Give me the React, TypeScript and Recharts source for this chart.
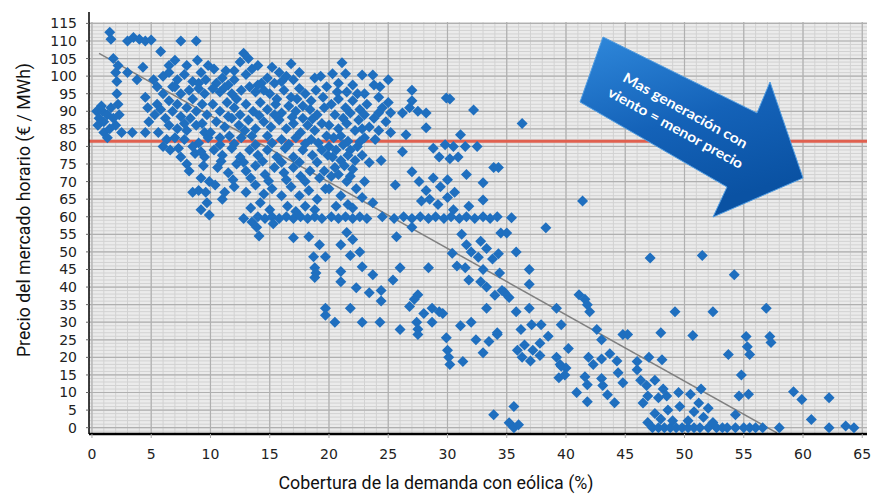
import {
  ScatterChart,
  Scatter,
  XAxis,
  YAxis,
  ZAxis,
  CartesianGrid,
  ReferenceLine,
} from 'recharts';

// axis ticks
const xTicks = [0, 5, 10, 15, 20, 25, 30, 35, 40, 45, 50, 55, 60, 65];
const yTicks = [0, 5, 10, 15, 20, 25, 30, 35, 40, 45, 50, 55, 60, 65, 70, 75, 80, 85, 90, 95, 100, 105, 110, 115];
const xMinor = Array.from({ length: 66 }, (_, i) => i);
const yMinor = Array.from({ length: 117 }, (_, i) => i - 1);
const xDomain: [number, number] = [-0.25, 65.4];
const yDomain: [number, number] = [-1.8, 115.4];

// reference price and trend line
const referencePrice = 81.5;
const trendStart = { x: 0.6, y: 106.5 };
const trendEnd = { x: 57.8, y: -1.5 };

// hourly points [wind coverage %, price €/MWh]
const band0to10: [number, number][] = [
  [0.4, 90], [0.6, 88], [0.9, 90], [0.5, 86], [1.0, 87], [1.3, 89], [1.6, 91], [1.0, 84], [1.5, 85], [2.0, 86],
  [1.8, 88], [2.3, 89], [1.3, 82.5], [2.5, 84], [0.8, 91.5], [2.2, 92],
  [1.5, 112.5], [1.6, 110.5], [3.0, 110], [3.5, 111], [4.0, 110.5], [4.5, 110], [5.0, 110.3], [7.5, 110], [8.8, 110],
  [5.8, 107], [1.8, 105], [2.2, 103], [2.0, 101], [4.3, 102.5], [2.1, 98.5], [2.1, 95], [7.0, 104.5], [8.0, 103],
  [6.0, 100], [6.5, 101], [5.2, 99], [7.2, 99], [7.8, 100.5], [8.5, 98.5], [9.2, 101], [9.6, 99], [5.5, 97], [7.0, 97],
  [8.2, 96], [9.0, 96.5],
  [4.5, 94], [4.7, 91], [5.3, 89], [4.8, 87], [3.4, 84], [4.5, 84], [5.6, 84], [6.5, 93], [7.2, 92], [6.8, 90],
  [7.5, 88.5], [8.0, 91], [8.5, 93.5], [9.3, 92], [9.7, 89], [6.5, 86], [7.2, 85], [8.0, 84.5], [8.8, 86], [9.5, 84],
  [6.3, 82], [7.8, 82], [9.0, 81], [9.8, 82.5],
  [6.6, 79], [7.3, 79.5], [8.0, 75], [8.7, 78], [9.5, 77], [8.2, 73], [9.2, 71], [8.5, 67], [9.0, 67.5], [9.6, 67],
  [9.2, 62], [9.9, 60.5], [9.7, 64], [9.9, 70], [9.4, 74.5], [7.5, 77], [6.0, 80],
  [5.5, 92], [6.0, 95], [6.2, 88], [6.8, 97], [7.5, 95], [7.8, 86.5], [8.3, 88], [8.8, 90], [9.0, 98], [9.5, 95],
  [8.5, 80], [9.2, 78.5], [7.0, 82.5], [5.8, 90.5], [3.0, 101], [3.8, 99], [6.5, 103], [9.8, 103], [8.9, 104.5],
  [9.3, 86.5],
];

const band10to20: [number, number][] = [
  [10.5, 98], [11.0, 99.5], [11.5, 97.5], [12.0, 99], [12.5, 104], [12.8, 106.5], [13.2, 105], [13.5, 102], [13.0, 100.5],
  [14.3, 98], [14.8, 99.5], [15.4, 98], [15.8, 101], [16.4, 100], [17.0, 99], [17.5, 96.5], [18.0, 95], [18.8, 99.5],
  [19.3, 100], [19.8, 97], [10.8, 95.5], [11.8, 95], [12.6, 96], [13.8, 95.5], [15.0, 95], [16.2, 96], [17.3, 93.5],
  [18.5, 93], [19.5, 94], [10.3, 102], [11.3, 101.5], [14.0, 103], [15.2, 102.5], [16.8, 103.5],
  [10.2, 92], [10.8, 90], [11.4, 92.5], [12.0, 91], [12.5, 89], [13.0, 92], [13.6, 90], [14.2, 92.5], [14.8, 90.5],
  [15.5, 92], [16.0, 89.5], [16.6, 91.5], [17.2, 90], [17.8, 88], [18.4, 90.5], [19.0, 89], [19.6, 91], [10.5, 87],
  [11.2, 85.5], [11.8, 88], [12.4, 86], [13.2, 87.5], [13.8, 85], [14.5, 87], [15.1, 85.5], [15.8, 87.5], [16.4, 85],
  [17.0, 86.5], [17.6, 84], [18.2, 86], [18.8, 84.5], [19.4, 86.5], [10.0, 84], [10.8, 82.5], [11.6, 83], [12.6, 82.5],
  [13.5, 83], [14.8, 83], [16.0, 82], [17.2, 82.5], [18.5, 82], [19.8, 83],
  [10.3, 79], [11.0, 77.5], [11.8, 79.5], [12.5, 77], [13.3, 79], [14.0, 77.5], [14.8, 79], [15.6, 77], [16.3, 79.5],
  [17.0, 77], [17.8, 79], [18.6, 77.5], [19.4, 79], [10.6, 74], [11.5, 72.5], [12.2, 75], [13.0, 73], [13.8, 74.5],
  [14.6, 72], [15.4, 74], [16.2, 72.5], [17.0, 74], [17.6, 71.5], [18.4, 73], [19.2, 71], [10.4, 69], [11.2, 67],
  [12.0, 68.5], [13.0, 67], [13.8, 69], [14.5, 66.5], [15.2, 68], [16.0, 66], [16.8, 68.5], [17.5, 66], [18.3, 67.5],
  [19.0, 65], [19.7, 68], [11.0, 65], [13.4, 62.5], [14.2, 64], [15.0, 62], [16.5, 63], [17.2, 61.5], [18.0, 63],
  [18.8, 62], [12.8, 59.5], [13.5, 58.5], [14.0, 60], [14.6, 59.5], [15.2, 60], [15.8, 59.5], [16.4, 60], [17.0, 59.5],
  [17.6, 60], [18.2, 59.5], [18.8, 60], [19.4, 59.5], [13.9, 57], [14.1, 54.5], [15.3, 58], [17.0, 54], [18.3, 54.3],
  [19.2, 52], [18.7, 48.6], [19.7, 48.6], [18.8, 45.5], [18.9, 44], [18.8, 42.7], [19.7, 34], [19.7, 32],
  [10.2, 96.5], [11.2, 96.8], [12.2, 93.5], [13.3, 97], [14.5, 96], [15.6, 93.5], [16.8, 94], [17.8, 91.5], [18.9, 96],
  [10.8, 80.5], [12.0, 80.8], [13.8, 80.5], [15.2, 81], [16.6, 80.6], [18.0, 80.8], [19.1, 81], [11.5, 88.5],
  [12.9, 84.5], [14.1, 88.8], [15.4, 89], [16.9, 88.3], [18.6, 87.8], [10.9, 75.8], [12.8, 75.5], [14.4, 75.8],
  [16.0, 75.5], [17.5, 75.5], [19.0, 75.5], [11.9, 70.5], [13.4, 71], [14.9, 70.2], [16.4, 70.5], [18.0, 70],
  [19.6, 73], [14.0, 97.5], [16.0, 98.5], [12.0, 101.5], [17.5, 101],
];

const band20to30: [number, number][] = [
  [20.3, 100.7], [20.8, 98], [21.1, 103.8], [21.4, 100.7], [22.0, 97.5], [22.8, 100.3], [23.7, 100.3], [24.3, 97],
  [25.0, 99], [21.5, 95.5], [23.0, 95], [24.2, 94], [25.0, 92.5], [27.0, 96], [27.0, 93], [29.9, 93.8], [30.2, 93.5],
  [20.2, 92], [20.8, 93.5], [21.4, 91], [22.0, 93], [22.6, 90.5], [23.2, 92], [20.5, 89], [21.2, 88], [21.8, 89.5],
  [22.5, 87.5], [23.0, 89], [20.0, 86], [20.8, 85], [21.5, 86.5], [22.2, 84.5], [22.8, 85], [23.4, 85.5], [24.2, 89.6],
  [25.2, 89.6], [24.2, 84.5], [25.2, 84], [26.2, 89.5], [26.8, 91], [27.5, 90], [28.2, 89.5], [28.2, 85.3], [26.5, 83.3],
  [23.9, 82], [20.4, 82.5], [21.0, 83], [21.6, 81.5],
  [20.0, 80], [20.6, 79], [21.2, 80.5], [21.8, 79], [22.4, 80], [20.3, 77], [21.0, 76], [21.6, 77.5], [22.2, 76],
  [22.8, 77.5], [20.5, 74], [21.3, 74.5], [22.0, 73.5], [23.4, 75.4], [24.4, 76], [26.2, 78.5], [28.8, 79.5], [29.3, 77],
  [29.8, 80.5],
  [27.0, 72.8], [25.6, 69], [27.6, 70], [28.2, 67.5], [28.8, 71], [29.4, 68.5], [27.8, 64.5], [28.5, 65], [29.2, 63.5],
  [21.5, 70], [22.3, 68], [21.0, 66], [23.7, 64], [20.2, 71.5], [20.6, 63], [22.0, 62.5],
  [20.2, 60], [20.8, 59.5], [21.4, 60], [22.0, 59.5], [22.6, 60], [23.2, 59.5], [24.5, 60], [25.5, 59.5], [26.3, 60],
  [27.0, 59.5], [27.7, 60], [28.4, 59.5], [29.0, 60], [29.7, 59.5],
  [21.0, 52], [21.5, 55.5], [22.0, 53.5], [21.8, 49], [22.6, 50], [22.8, 45.8], [23.7, 43.5], [21.0, 44.4], [21.0, 41.5],
  [22.3, 39.8], [23.4, 38.4], [24.4, 39], [24.4, 36], [25.4, 42], [26.0, 45.5], [25.7, 54.3], [27.0, 57], [28.4, 45.5],
  [27.5, 37.8], [20.5, 30], [21.8, 34], [22.8, 30], [24.3, 30], [26.0, 27.9], [27.4, 30], [27.5, 28], [27.5, 26.5],
  [28.0, 32.5], [28.7, 34], [29.3, 33], [29.6, 32.5], [28.7, 30], [29.9, 25.6], [26.8, 34.5], [27.2, 36.5],
  [20.7, 95.5], [22.4, 95], [23.8, 97.5], [24.5, 91], [23.8, 88], [23.0, 82.5], [22.6, 81.3], [20.8, 72], [21.8, 71.5],
  [20.0, 68], [23.0, 70], [24.8, 87], [19.9, 77.5], [21.6, 63.5], [22.8, 65.5],
];

const band30to40: [number, number][] = [
  [30.0, 22], [30.1, 20], [30.2, 18], [30.2, 76.5], [30.0, 70.5], [30.0, 65.5],
  [31.1, 83.3], [32.2, 90.4], [30.5, 80], [31.5, 80], [32.5, 80], [30.9, 77], [31.6, 72], [33.0, 69.7], [33.9, 74],
  [33.0, 64.8], [34.3, 74], [36.3, 86.5], [30.5, 62], [31.8, 63], [30.6, 67],
  [30.3, 60], [31.0, 59.5], [31.6, 60], [32.3, 59.5], [33.0, 60], [33.6, 59.5], [34.2, 60], [35.4, 59.7],
  [30.4, 49.6], [31.6, 52], [31.2, 55], [32.0, 50], [32.6, 48.5], [32.8, 53], [33.3, 51], [33.8, 48], [34.3, 49.5],
  [31.8, 42], [32.8, 41.5], [33.3, 40], [34.0, 37.7], [34.5, 55.4], [35.0, 55.4], [35.8, 50], [30.8, 46], [31.5, 45.5],
  [33.0, 45], [34.4, 44], [34.8, 38.5], [35.2, 37], [34.6, 39], [36.9, 45], [36.9, 40.8], [38.3, 56.9], [33.3, 34],
  [31.1, 29], [31.3, 18.8], [32.4, 25], [32.0, 30], [33.0, 21.3], [33.5, 24.5], [34.2, 26.5], [33.9, 3.7], [34.2, 27],
  [35.8, 33], [36.9, 34], [39.2, 34], [36.2, 27.9], [37.1, 29.3], [37.9, 29.3], [39.6, 29.3], [35.6, 6], [35.2, 1.4],
  [35.6, 0], [36.0, 0.8], [35.9, 22], [36.5, 23.5], [37.2, 22], [37.8, 24], [36.3, 20], [37.0, 19], [37.8, 20.5],
  [38.5, 26], [39.2, 20], [39.5, 18], [40.0, 17], [39.4, 14.2], [39.9, 15], [39.6, 17.5],
];

const band40to50: [number, number][] = [
  [40.2, 22.5], [41.4, 64.5], [41.1, 37.8], [41.6, 36.5], [41.8, 35], [42.0, 33], [42.6, 27.9], [43.0, 25], [44.8, 26.5],
  [45.2, 26.5], [41.9, 20], [42.3, 18], [43.0, 19.5], [43.7, 21], [44.3, 19], [41.6, 14.5], [41.8, 12.2], [43.0, 14],
  [43.1, 12], [44.4, 15.6], [44.8, 12.8], [46.0, 18.8], [46.0, 16.5], [47.0, 20], [48.1, 19.3], [46.3, 13.5], [46.8, 12],
  [47.5, 13.5], [48.2, 11], [48.5, 9], [47.8, 8.5], [49.5, 10], [46.9, 9], [46.5, 7], [40.9, 10], [41.8, 7.4], [43.5, 9.4],
  [44.1, 7.1], [47.1, 48.3], [49.2, 33], [48.0, 27],
  [47.3, 0], [47.8, 0], [48.3, 0], [48.8, 0], [49.3, 0], [49.8, 0], [46.9, 1.5], [48.0, 2.5], [49.0, 2], [47.5, 4],
  [48.6, 5], [49.6, 6],
];

const band50to65: [number, number][] = [
  [51.5, 49], [54.2, 43.5], [52.4, 33], [56.9, 34], [50.7, 26.2], [55.2, 25.9], [55.3, 23], [55.5, 20.8], [57.2, 25.9],
  [57.3, 24.2], [53.7, 20.8], [54.8, 15], [54.6, 9], [55.4, 9.5], [54.3, 3.7], [59.2, 10.2], [59.9, 8], [62.2, 8.5],
  [60.7, 2.3],
  [50.3, 0], [50.8, 0], [51.3, 0], [52.0, 0], [52.7, 0], [53.2, 0], [53.6, 0], [54.3, 0], [55.0, 0], [55.5, 0],
  [56.0, 0], [56.6, 0], [58.0, 0], [62.2, 0], [63.6, 0.5], [64.3, 0],
  [50.3, 2], [50.8, 4.5], [51.2, 7], [50.5, 9.5], [51.6, 3], [52.0, 5.5], [51.4, 11], [52.4, 1.5],
];

const points = [...band0to10, ...band10to20, ...band20to30, ...band30to40, ...band40to50, ...band50to65].map(
  ([x, y]) => ({ x, y })
);

const titleFont = 'Roboto, "Liberation Sans", sans-serif';
const tickFont = '"DejaVu Sans", sans-serif';

// map a value through the axis scale, whatever shape recharts hands it over in
function project(scale: any, v: number, domain: [number, number], start: number, size: number, flip: boolean) {
  if (typeof scale === 'function') return scale(v);
  if (scale && typeof scale.map === 'function') return scale.map(v);
  const t = (v - domain[0]) / (domain[1] - domain[0]);
  return flip ? start + size * (1 - t) : start + size * t;
}

const verticalLines = (values: number[]) => ({ xAxis, offset }: any) =>
  values.map((v) => project(xAxis?.scale, v, xDomain, offset.left, offset.width, false));

const horizontalLines = (values: number[]) => ({ yAxis, offset }: any) =>
  values.map((v) => project(yAxis?.scale, v, yDomain, offset.top, offset.height, true));

// square diamond marker (recharts' own diamond is tall and narrow)
function Diamond({ cx, cy, fill }: any) {
  if (cx == null || cy == null) return null;
  const r = 5.5;
  return <polygon points={`${cx},${cy - r} ${cx + r},${cy} ${cx},${cy + r} ${cx - r},${cy}`} fill={fill} />;
}

function Overlay() {
  return (
    <svg
      width={872}
      height={495}
      style={{ position: 'absolute', left: 0, top: 0, pointerEvents: 'none' }}
    >
      <defs>
        <linearGradient id="arrowFill" x1="0" y1="0" x2="0.35" y2="1">
          <stop offset="0%" stopColor="#2f88db" />
          <stop offset="55%" stopColor="#1462b8" />
          <stop offset="100%" stopColor="#0a52a3" />
        </linearGradient>
      </defs>
      <line x1={89} y1={12} x2={89} y2={22} stroke="#000" strokeWidth={1.5} />
      <polygon
        points="603,37 757,113 770,82 803,178 713,217 727,187 580,102"
        fill="url(#arrowFill)"
        stroke="#4f9be0"
        strokeWidth={1}
      />
      <g transform="translate(680,120) rotate(29)" fontFamily='Lato, "Open Sans", sans-serif' fontWeight={700} fontSize={14} fill="#fff" textAnchor="middle">
        <text x={0} y={-6} textLength={140} lengthAdjust="spacingAndGlyphs">Mas generación con</text>
        <text x={0} y={14} textLength={152} lengthAdjust="spacingAndGlyphs">viento = menor precio</text>
      </g>
      <text
        x={436}
        y={489}
        textAnchor="middle"
        fontFamily={titleFont}
        fontSize={19}
        fill="#111"
        textLength={315}
        lengthAdjust="spacingAndGlyphs"
      >
        Cobertura de la demanda con eólica (%)
      </text>
      <text
        x={0}
        y={0}
        transform="translate(30,210) rotate(-90)"
        textAnchor="middle"
        fontFamily={titleFont}
        fontSize={19}
        fill="#111"
        textLength={294}
        lengthAdjust="spacingAndGlyphs"
      >
        Precio del mercado horario (€ / MWh)
      </text>
    </svg>
  );
}

export default function App() {
  return (
    <div style={{ position: 'absolute', left: 0, top: 0, width: 872, height: 495, background: '#fff' }}>
      <ScatterChart width={872} height={495} margin={{ top: 22, right: 5, bottom: 0, left: 0 }}>
        <CartesianGrid
          fill="#ebebeb"
          stroke="#d2d2d2"
          strokeWidth={1}
          verticalCoordinatesGenerator={verticalLines(xMinor)}
          horizontalCoordinatesGenerator={horizontalLines(yMinor)}
        />
        <CartesianGrid
          stroke="#b0b0b0"
          strokeWidth={1.2}
          verticalCoordinatesGenerator={verticalLines(xTicks)}
          horizontalCoordinatesGenerator={horizontalLines(yTicks)}
        />
        <XAxis
          type="number"
          dataKey="x"
          domain={xDomain}
          ticks={xTicks}
          interval={0}
          allowDataOverflow
          height={61}
          axisLine={{ stroke: '#000', strokeWidth: 2.5 }}
          tickLine={{ stroke: '#aaa' }}
          tickSize={4}
          tickMargin={11}
          tick={{ fill: '#222', fontSize: 14, fontFamily: tickFont }}
        />
        <YAxis
          type="number"
          dataKey="y"
          domain={yDomain}
          ticks={yTicks}
          interval={0}
          allowDataOverflow
          width={89}
          axisLine={{ stroke: '#000', strokeWidth: 1.5 }}
          tickLine={{ stroke: '#666' }}
          tickSize={3}
          tickMargin={9}
          tick={{ fill: '#222', fontSize: 14, fontFamily: tickFont }}
        />
        <ZAxis range={[45, 45]} />
        <ReferenceLine y={referencePrice} stroke="#e0604f" strokeWidth={3} />
        <Scatter data={points} shape={<Diamond />} fill="#1f6fbf" isAnimationActive={false} />
        <ReferenceLine segment={[trendStart, trendEnd]} stroke="#808080" strokeWidth={1.5} />
      </ScatterChart>
      <Overlay />
    </div>
  );
}
